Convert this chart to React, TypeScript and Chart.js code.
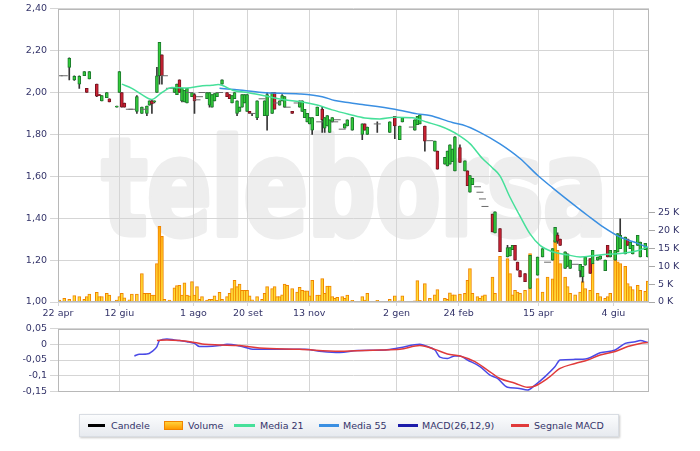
import React, { useEffect, useRef } from "react";
import { Chart, registerables } from "chart.js";

Chart.register(...registerables);

// ---------- data ----------
// trading-session index (position on the time axis)
const days = [
  0, 2, 4, 6, 8, 10, 11, 12, 15, 16,
  17, 19, 20, 23, 24, 25, 26, 28, 29, 31,
  33, 34, 35, 36, 37, 38, 39, 40, 41, 42,
  44, 46, 47, 48, 49, 50, 51, 52, 53, 54,
  55, 56, 57, 59, 60, 61, 62, 63, 64, 65,
  67, 68, 69, 70, 71, 72, 73, 74, 75, 76,
  77, 79, 81, 82, 83, 85, 86, 87, 88, 89,
  90, 91, 93, 95, 96, 97, 98, 99, 100, 101,
  103, 104, 105, 106, 107, 108, 109, 110, 111, 113,
  114, 115, 117, 121, 122, 123, 127, 132, 134, 136,
  137, 139, 141, 142, 143, 144, 146, 148, 150, 151,
  154, 155, 156, 157, 158, 160, 162, 163, 164, 165,
  167, 168, 169, 170, 173, 174, 176, 179, 180, 181,
  182, 183, 184, 186, 188, 191, 193, 195, 197, 198,
  199, 200, 202, 203, 204, 206, 208, 209, 210, 212,
  213, 215, 216, 218, 219, 220, 222, 223, 224, 226,
  227, 228, 229, 231, 232, 234, 235,
];

const opens = [
  2.08, 2.08, 2.12, 2.06, 2.04, 2.08, 2.02, 2.065, 2.04, 1.99,
  1.96, 1.975, 1.97, 1.93, 2.0, 2.0, 1.95, 1.92, 1.92, 1.91,
  1.9, 1.92, 1.9, 1.94, 1.96, 1.955, 2.0, 2.08, 2.18, 2.08,
  2.02, 2.0, 1.99, 2.06, 1.96, 1.955, 1.95, 2.0, 1.98, 1.99,
  1.965, 1.98, 2.0, 1.97, 1.94, 1.93, 1.96, 1.98, 2.0, 2.04,
  2.0, 1.99, 1.95, 1.97, 1.9, 1.91, 1.93, 1.95, 1.91, 1.91,
  1.9, 1.88, 1.97, 1.89, 1.89, 1.9, 2.0, 1.95, 1.94, 1.96,
  1.93, 1.93, 1.91, 1.95, 1.93, 1.91, 1.88, 1.86, 1.85, 1.82,
  1.89, 1.86, 1.92, 1.83, 1.84, 1.81, 1.86, 1.86, 1.87, 1.825,
  1.83, 1.84, 1.82, 1.8, 1.85, 1.8, 1.85, 1.81, 1.886, 1.775,
  1.86, 1.88, 1.835, 1.82, 1.846, 1.85, 1.84, 1.77, 1.72, 1.72,
  1.658, 1.65, 1.658, 1.67, 1.626, 1.737, 1.626, 1.626, 1.524, 1.56,
  1.55, 1.524, 1.492, 1.456, 1.42, 1.33, 1.35, 1.215, 1.22, 1.25,
  1.27, 1.19, 1.15, 1.136, 1.065, 1.128, 1.215, 1.19, 1.2, 1.286,
  1.32, 1.3, 1.16, 1.17, 1.16, 1.18, 1.15, 1.12, 1.176, 1.207,
  1.183, 1.2, 1.205, 1.15, 1.27, 1.215, 1.2, 1.239, 1.255, 1.23,
  1.3, 1.255, 1.23, 1.27, 1.215, 1.25, 1.215,
];

const highs = [
  2.08, 2.08, 2.165, 2.08, 2.08, 2.1, 2.02, 2.1, 2.04, 1.99,
  1.985, 2.0, 1.97, 1.935, 2.1, 2.0, 1.95, 1.92, 1.92, 1.985,
  1.93, 1.92, 1.935, 1.96, 1.965, 1.96, 2.12, 2.24, 2.18, 2.08,
  2.02, 2.02, 2.04, 2.06, 2.02, 2.01, 2.02, 2.0, 2.0, 1.995,
  1.965, 1.98, 2.0, 2.0, 2.0, 1.99, 1.995, 2.0, 2.0, 2.06,
  2.0, 1.99, 1.985, 2.0, 1.96, 1.93, 1.99, 1.99, 1.99, 1.91,
  1.9, 1.96, 1.97, 1.96, 2.0, 2.0, 2.0, 1.95, 1.96, 1.99,
  1.98, 1.93, 1.91, 1.95, 1.96, 1.96, 1.92, 1.9, 1.88, 1.88,
  1.93, 1.86, 1.93, 1.88, 1.89, 1.87, 1.88, 1.86, 1.87, 1.825,
  1.85, 1.87, 1.88, 1.85, 1.85, 1.835, 1.86, 1.86, 1.886, 1.84,
  1.88, 1.88, 1.835, 1.87, 1.886, 1.894, 1.84, 1.77, 1.768, 1.72,
  1.69, 1.72, 1.75, 1.73, 1.79, 1.75, 1.674, 1.626, 1.603, 1.59,
  1.55, 1.524, 1.492, 1.456, 1.42, 1.43, 1.35, 1.27, 1.26, 1.27,
  1.27, 1.19, 1.15, 1.136, 1.223, 1.215, 1.255, 1.19, 1.255, 1.357,
  1.33, 1.3, 1.239, 1.23, 1.2, 1.18, 1.18, 1.17, 1.215, 1.207,
  1.247, 1.215, 1.22, 1.2, 1.27, 1.247, 1.247, 1.326, 1.397, 1.31,
  1.3, 1.286, 1.27, 1.318, 1.286, 1.28, 1.26,
];

const lows = [
  2.08, 2.08, 2.06, 2.058, 2.02, 2.08, 2.0, 2.065, 1.98, 1.985,
  1.96, 1.975, 1.955, 1.93, 2.0, 1.93, 1.93, 1.92, 1.92, 1.9,
  1.9, 1.92, 1.89, 1.94, 1.9, 1.95, 2.0, 2.04, 2.04, 2.08,
  2.02, 2.0, 1.99, 2.0, 1.955, 1.955, 1.95, 2.0, 1.98, 1.9,
  1.965, 1.98, 2.0, 1.97, 1.93, 1.93, 1.96, 1.98, 2.0, 2.04,
  1.98, 1.97, 1.95, 1.97, 1.89, 1.91, 1.93, 1.95, 1.91, 1.9,
  1.89, 1.87, 1.97, 1.89, 1.82, 1.9, 1.92, 1.95, 1.94, 1.96,
  1.93, 1.93, 1.9, 1.95, 1.93, 1.91, 1.88, 1.86, 1.85, 1.8,
  1.89, 1.86, 1.81, 1.81, 1.84, 1.81, 1.86, 1.86, 1.87, 1.825,
  1.83, 1.84, 1.82, 1.775, 1.82, 1.8, 1.81, 1.81, 1.78, 1.775,
  1.86, 1.88, 1.835, 1.82, 1.846, 1.85, 1.72, 1.77, 1.72, 1.634,
  1.658, 1.65, 1.658, 1.67, 1.626, 1.666, 1.626, 1.555, 1.524, 1.56,
  1.55, 1.524, 1.492, 1.456, 1.334, 1.33, 1.24, 1.215, 1.22, 1.25,
  1.2, 1.152, 1.12, 1.097, 1.065, 1.128, 1.215, 1.19, 1.2, 1.286,
  1.28, 1.27, 1.16, 1.17, 1.16, 1.18, 1.12, 1.095, 1.176, 1.136,
  1.183, 1.2, 1.205, 1.15, 1.215, 1.215, 1.2, 1.239, 1.255, 1.23,
  1.27, 1.255, 1.23, 1.27, 1.215, 1.25, 1.215,
];

const closes = [
  2.08, 2.08, 2.163, 2.077, 2.077, 2.1, 2.0, 2.1, 1.982, 1.985,
  1.985, 2.0, 1.955, 1.935, 2.1, 1.93, 1.93, 1.92, 1.92, 1.98,
  1.93, 1.92, 1.935, 1.96, 1.945, 1.96, 2.08, 2.24, 2.08, 2.08,
  2.02, 2.02, 2.04, 2.0, 2.02, 2.01, 2.02, 2.0, 2.0, 1.96,
  1.965, 1.98, 2.0, 2.0, 2.0, 1.99, 1.995, 2.0, 2.0, 2.06,
  1.98, 1.97, 1.985, 2.0, 1.96, 1.93, 1.99, 1.99, 1.99, 1.9,
  1.9, 1.96, 1.97, 1.96, 1.99, 2.0, 1.92, 1.95, 1.96, 1.985,
  1.98, 1.93, 1.9, 1.95, 1.96, 1.96, 1.92, 1.9, 1.88, 1.88,
  1.93, 1.86, 1.87, 1.88, 1.89, 1.87, 1.88, 1.86, 1.87, 1.825,
  1.85, 1.87, 1.88, 1.85, 1.82, 1.835, 1.85, 1.86, 1.84, 1.84,
  1.88, 1.88, 1.835, 1.87, 1.886, 1.894, 1.768, 1.77, 1.768, 1.634,
  1.69, 1.72, 1.75, 1.73, 1.788, 1.666, 1.674, 1.555, 1.603, 1.59,
  1.55, 1.524, 1.492, 1.456, 1.334, 1.43, 1.24, 1.26, 1.26, 1.27,
  1.2, 1.152, 1.12, 1.097, 1.223, 1.215, 1.255, 1.19, 1.255, 1.357,
  1.29, 1.27, 1.239, 1.23, 1.2, 1.18, 1.18, 1.17, 1.215, 1.136,
  1.247, 1.215, 1.22, 1.2, 1.215, 1.247, 1.247, 1.326, 1.318, 1.31,
  1.27, 1.286, 1.27, 1.318, 1.286, 1.28, 1.26,
];

// volume in thousands of shares
const volumesK = [
  0.56, 1.0, 0.74, 1.77, 1.5, 0.74, 1.5, 2.2, 2.7, 1.5,
  1.5, 2.4, 1.95, 0.56, 1.5, 2.4, 1.2, 0.6, 2.2, 2.2,
  8.0, 2.4, 2.4, 2.4, 1.95, 1.95, 10.8, 21.2, 18.4, 0.74,
  0.56, 4.0, 4.6, 4.7, 1.95, 5.4, 1.95, 1.7, 5.7, 1.95,
  4.3, 0.74, 1.5, 0.56, 0.74, 0.74, 1.7, 0.5, 2.7, 0.74,
  1.5, 2.4, 3.8, 6.1, 4.3, 5.0, 3.3, 3.3, 3.3, 1.7,
  0.6, 1.5, 0.74, 2.4, 4.3, 3.8, 4.3, 1.5, 1.5, 2.0,
  5.0, 4.7, 3.8, 2.8, 4.1, 3.3, 3.1, 3.1, 1.7, 6.1,
  1.95, 1.95, 6.6, 2.4, 4.5, 4.5, 1.5, 1.0, 1.3, 1.5,
  1.0, 1.95, 0.5, 1.5, 0.56, 2.4, 0.5, 0.74, 1.7, 0.3,
  1.7, 0.2, 0.2, 0.3, 6.0, 0.5, 5.2, 1.0, 2.0, 3.5,
  1.0, 0.74, 2.6, 2.0, 2.0, 2.2, 2.4, 6.1, 9.4, 2.4,
  1.5, 1.0, 1.7, 2.0, 7.0, 2.4, 12.8, 12.2, 8.0, 2.0,
  3.3, 2.8, 2.4, 3.3, 13.6, 6.6, 2.8, 7.0, 6.5, 17.3,
  14.5, 10.8, 7.0, 4.3, 2.4, 2.0, 2.8, 5.7, 3.8, 3.3,
  10.8, 2.4, 1.5, 1.0, 1.5, 2.4, 14.0, 11.3, 10.8, 10.0,
  5.2, 4.3, 3.5, 4.7, 3.3, 3.0, 5.9,
];

const ma21Days = [
  25, 29, 33, 37, 41, 45, 51, 56, 61, 63.5,
  69.5, 76, 83, 90, 96, 103, 109, 116, 122, 128,
  134, 141, 147, 152, 156, 159, 164, 169, 173, 176,
  180, 184, 188, 192, 197, 203, 208, 214, 219, 224,
  230, 235,
];
const ma21Vals = [
  2.04, 2.02, 1.99, 1.967, 2.0, 2.024, 2.022, 2.03, 2.035, 2.038,
  2.01, 1.998, 1.982, 1.965, 1.957, 1.94, 1.917, 1.895, 1.878, 1.874,
  1.882, 1.879, 1.858, 1.84, 1.82, 1.8, 1.756, 1.685, 1.64, 1.602,
  1.5, 1.41, 1.325, 1.27, 1.24, 1.225, 1.215, 1.222, 1.228, 1.232,
  1.242, 1.262,
];

const ma55Days = [
  64, 70, 81, 96, 105, 110, 116, 121, 134, 143,
  148, 157, 161, 168, 176, 184, 191, 197, 204, 211,
  217, 224, 231, 235,
];
const ma55Vals = [
  2.02, 2.014, 2.0, 1.993, 1.98, 1.962, 1.951, 1.943, 1.92, 1.898,
  1.89, 1.857, 1.846, 1.81, 1.755, 1.685, 1.605, 1.545, 1.478, 1.413,
  1.36, 1.31, 1.28, 1.26,
];

const macdDays = [
  30, 32, 35, 37, 39, 40, 43, 46, 48, 51,
  54, 56, 59, 64, 67, 72, 78, 87, 98, 105,
  112, 119, 130, 136, 144, 147, 150, 152, 155, 158,
  160, 163, 168, 172, 175, 179, 183, 187, 190, 194,
  198, 200, 206, 211, 216, 222, 226, 230, 232, 235,
];
const macdVals = [
  -0.037, -0.032, -0.031, -0.023, -0.007, 0.012, 0.017, 0.014, 0.012, 0.0085,
  0.003, -0.007, -0.007, -0.004, 0, -0.005, -0.016, -0.016, -0.016, -0.023,
  -0.026, -0.02, -0.018, -0.011, 0, -0.007, -0.018, -0.041, -0.045, -0.037,
  -0.037, -0.05, -0.071, -0.098, -0.109, -0.137, -0.14, -0.146, -0.13, -0.103,
  -0.071, -0.05, -0.048, -0.045, -0.027, -0.018, 0.003, 0.0085, 0.012, 0.006,
];

const signalDays = [
  39, 43, 48, 54, 58, 64, 72, 80, 96, 112,
  128, 136, 144, 150, 155, 160, 166, 171, 176, 182,
  187, 190, 195, 200, 206, 211, 216, 222, 227, 232,
  235,
];
const signalVals = [
  0.012, 0.014, 0.012, 0.006, 0, -0.002, -0.004, -0.012, -0.016, -0.022,
  -0.018, -0.016, -0.004, -0.016, -0.031, -0.037, -0.055, -0.082, -0.109, -0.124,
  -0.137, -0.133, -0.109, -0.077, -0.061, -0.05, -0.034, -0.023, -0.007, 0.003,
  0.006,
];

const tickDays = [-0.5, 24, 53.6, 75.3, 99.8, 134.7, 159.5, 191.3, 221.3];
const tickLabels = ["22 apr", "12 giu", "1 ago", "20 set", "13 nov", "2 gen", "24 feb", "15 apr", "4 giu"];
const priceTicks = [1.0, 1.2, 1.4, 1.6, 1.8, 2.0, 2.2, 2.4];
const volumeTicks = [0, 5000, 10000, 15000, 20000, 25000];
const macdTicks = [-0.15, -0.1, -0.05, 0, 0.05];
const legendLabels = ["Candele", "Volume", "Media 21", "Media 55", "MACD(26,12,9)", "Segnale MACD"];

// ---------- styles ----------
const FONT_FAMILY = "'DejaVu Sans', 'Liberation Sans', sans-serif";
const TEXT_COLOR = "#34346a";
const GRID_COLOR = "#d5d5d5";
const BORDER_COLOR = "#b8b8b8";
const GREEN_FILL = "#33cc3a";
const GREEN_EDGE = "#1b7a2c";
const RED_FILL = "#cc2233";
const RED_EDGE = "#7a1420";
const MA21_COLOR = "#46e09a";
const MA55_COLOR = "#3a8fe2";
const MACD_COLOR = "#4a4ae6";
const SIGNAL_COLOR = "#e03a3a";
const X_MIN = -0.5;
const X_MAX = 235.5;

const tickFont = { family: FONT_FAMILY, size: 9.5 };

const fmtPrice = (v: number) => v.toFixed(2).replace(".", ",");
const fmtMacd = (v: number) => String(Math.round(v * 100) / 100).replace(".", ",");

const watermark = {
  id: "watermark",
  beforeDraw(chart: any) {
    const { ctx } = chart;
    ctx.save();
    ctx.fillStyle = "#eeeeee";
    ctx.strokeStyle = "#eeeeee";
    ctx.lineJoin = "round";
    ctx.font = "bold 132px 'DejaVu Sans', sans-serif";
    const text = "teleborsa";
    const w = ctx.measureText(text).width;
    ctx.translate(102, 234);
    ctx.scale(505 / w, 1);
    ctx.lineWidth = 7;
    ctx.strokeText(text, 0, 0);
    ctx.fillText(text, 0, 0);
    ctx.restore();
  },
};

const plotBorder = {
  id: "plotBorder",
  afterDatasetsDraw(chart: any) {
    const { ctx, chartArea: a } = chart;
    ctx.save();
    ctx.strokeStyle = BORDER_COLOR;
    ctx.lineWidth = 1;
    ctx.strokeRect(Math.round(a.left) + 0.5, Math.round(a.top) + 0.5, Math.round(a.right - a.left) - 1, Math.round(a.bottom - a.top) - 1);
    ctx.restore();
  },
};

function PriceChart() {
  const ref = useRef<HTMLCanvasElement>(null);
  useEffect(() => {
    const canvas = ref.current;
    if (!canvas) return;
    const idx = days.map((_, i) => i);
    const bodyIdx = idx.filter((i) => opens[i] !== closes[i]);
    const dojiIdx = idx.filter((i) => opens[i] === closes[i]);
    const wickIdx = idx.filter((i) => highs[i] !== lows[i]);

    const volumeFill = (c: any) => {
      const area = c.chart.chartArea;
      if (!area) return "#ffc000";
      const g = c.chart.ctx.createLinearGradient(0, area.bottom, 0, area.bottom - 90);
      g.addColorStop(0, "#ffe23a");
      g.addColorStop(1, "#ff9c00");
      return g;
    };

    const chart = new Chart(canvas, {
      type: "bar",
      data: {
        datasets: [
          {
            type: "line",
            label: "Media 21",
            data: ma21Days.map((d, i) => ({ x: d, y: ma21Vals[i] })),
            borderColor: MA21_COLOR,
            borderWidth: 1.5,
            pointRadius: 0,
            cubicInterpolationMode: "monotone",
            yAxisID: "y",
            order: 0,
          },
          {
            type: "line",
            label: "Media 55",
            data: ma55Days.map((d, i) => ({ x: d, y: ma55Vals[i] })),
            borderColor: MA55_COLOR,
            borderWidth: 1.5,
            pointRadius: 0,
            cubicInterpolationMode: "monotone",
            yAxisID: "y",
            order: 1,
          },
          {
            type: "line",
            label: "doji",
            data: dojiIdx.map((i) => ({ x: days[i], y: closes[i] })),
            showLine: false,
            pointStyle: "line",
            pointRadius: 3.5,
            pointBorderColor: "#6a6a6a",
            pointBorderWidth: 1,
            yAxisID: "y",
            order: 2,
          },
          {
            type: "bar",
            label: "body",
            data: bodyIdx.map((i) => ({ x: days[i], y: [opens[i], closes[i]] })),
            backgroundColor: bodyIdx.map((i) => (closes[i] > opens[i] ? GREEN_FILL : RED_FILL)),
            borderColor: bodyIdx.map((i) => (closes[i] > opens[i] ? GREEN_EDGE : RED_EDGE)),
            borderWidth: 1,
            borderSkipped: false,
            barThickness: 3,
            grouped: false,
            yAxisID: "y",
            order: 3,
          },
          {
            type: "bar",
            label: "wick",
            data: wickIdx.map((i) => ({ x: days[i], y: [lows[i], highs[i]] })),
            backgroundColor: "#353535",
            barThickness: 1,
            grouped: false,
            yAxisID: "y",
            order: 4,
          },
          {
            type: "bar",
            label: "Volume",
            data: days.map((d, i) => ({ x: d, y: volumesK[i] * 1000 })),
            backgroundColor: volumeFill,
            borderColor: "#f08400",
            borderWidth: 1,
            barThickness: 3,
            grouped: false,
            yAxisID: "y2",
            order: 5,
          },
        ] as any,
      },
      options: {
        animation: false,
        responsive: false,
        devicePixelRatio: 1,
        layout: { padding: { top: 7, left: 0, right: 0, bottom: 0 } },
        plugins: { legend: { display: false }, tooltip: { enabled: false } },
        scales: {
          x: {
            type: "linear",
            min: X_MIN,
            max: X_MAX,
            offset: false,
            afterBuildTicks: (s: any) => {
              s.ticks = tickDays.map((v) => ({ value: v }));
            },
            afterFit: (s: any) => {
              s.height = 18;
            },
            ticks: {
              autoSkip: false,
              maxRotation: 0,
              padding: 2,
              color: TEXT_COLOR,
              font: tickFont,
              callback: (_v: any, i: number) => tickLabels[i],
            },
            grid: { color: GRID_COLOR, offset: false, drawTicks: true, tickLength: 4 },
            border: { display: false },
          },
          y: {
            type: "linear",
            position: "left",
            min: 1.0,
            max: 2.4,
            afterBuildTicks: (s: any) => {
              s.ticks = priceTicks.map((v) => ({ value: v }));
            },
            afterFit: (s: any) => {
              s.width = 58;
            },
            ticks: { padding: 3, color: TEXT_COLOR, font: tickFont, callback: (v: any) => fmtPrice(Number(v)) },
            grid: { color: GRID_COLOR, tickLength: 8 },
            border: { display: false },
          },
          y2: {
            type: "linear",
            position: "right",
            min: 0,
            max: 82300,
            afterBuildTicks: (s: any) => {
              s.ticks = volumeTicks.map((v) => ({ value: v }));
            },
            afterFit: (s: any) => {
              s.width = 51;
            },
            ticks: { padding: 3, color: TEXT_COLOR, font: tickFont, callback: (v: any) => `${Number(v) / 1000} K` },
            grid: { drawOnChartArea: false, color: "#a8a8a8", tickLength: 6 },
            border: { display: false },
          },
        },
      } as any,
      plugins: [watermark, plotBorder],
    });
    return () => chart.destroy();
  }, []);
  return <canvas ref={ref} width={700} height={320} style={{ position: "absolute", left: 0, top: 0 }} />;
}

function MacdChart() {
  const ref = useRef<HTMLCanvasElement>(null);
  useEffect(() => {
    const canvas = ref.current;
    if (!canvas) return;
    const chart = new Chart(canvas, {
      type: "line",
      data: {
        datasets: [
          {
            label: "Segnale MACD",
            data: signalDays.map((d, i) => ({ x: d, y: signalVals[i] })),
            borderColor: SIGNAL_COLOR,
            borderWidth: 1.5,
            pointRadius: 0,
            cubicInterpolationMode: "monotone",
          },
          {
            label: "MACD(26,12,9)",
            data: macdDays.map((d, i) => ({ x: d, y: macdVals[i] })),
            borderColor: MACD_COLOR,
            borderWidth: 1.5,
            pointRadius: 0,
            cubicInterpolationMode: "monotone",
          },
        ],
      },
      options: {
        animation: false,
        responsive: false,
        devicePixelRatio: 1,
        layout: { padding: { top: 8, bottom: 8, left: 0, right: 51 } },
        plugins: { legend: { display: false }, tooltip: { enabled: false } },
        scales: {
          x: {
            type: "linear",
            min: X_MIN,
            max: X_MAX,
            afterBuildTicks: (s: any) => {
              s.ticks = tickDays.map((v) => ({ value: v }));
            },
            afterFit: (s: any) => {
              s.height = 0;
            },
            ticks: { display: false },
            grid: { color: GRID_COLOR, drawTicks: false },
            border: { display: false },
          },
          y: {
            type: "linear",
            min: -0.15,
            max: 0.05,
            afterBuildTicks: (s: any) => {
              s.ticks = macdTicks.map((v) => ({ value: v }));
            },
            afterFit: (s: any) => {
              s.width = 58;
            },
            ticks: { padding: 3, color: TEXT_COLOR, font: tickFont, callback: (v: any) => fmtMacd(Number(v)) },
            grid: { color: GRID_COLOR, tickLength: 8 },
            border: { display: false },
          },
        },
      } as any,
      plugins: [plotBorder],
    });
    return () => chart.destroy();
  }, []);
  return <canvas ref={ref} width={700} height={80} style={{ position: "absolute", left: 0, top: 320 }} />;
}

function Legend() {
  const items = [
    { kind: "line", color: "#000000", lineLeft: 8, lineW: 17, textLeft: 31 },
    { kind: "box", color: "#ffb000", lineLeft: 84, lineW: 19, textLeft: 108 },
    { kind: "line", color: MA21_COLOR, lineLeft: 154, lineW: 21, textLeft: 180 },
    { kind: "line", color: MA55_COLOR, lineLeft: 239, lineW: 20, textLeft: 263 },
    { kind: "line", color: "#1c1caa", lineLeft: 318, lineW: 20, textLeft: 342 },
    { kind: "line", color: SIGNAL_COLOR, lineLeft: 431, lineW: 18, textLeft: 454 },
  ];
  return (
    <div
      style={{
        position: "absolute",
        left: 79,
        top: 414,
        width: 540,
        height: 23,
        boxSizing: "border-box",
        background: "linear-gradient(#fbfcfd, #e7eaef)",
        border: "1px solid #d9dde3",
        boxShadow: "1px 1px 2px rgba(0,0,0,0.22)",
        fontFamily: FONT_FAMILY,
        fontSize: "9.5px",
        color: TEXT_COLOR,
      }}
    >
      {items.map((it, i) => (
        <React.Fragment key={i}>
          {it.kind === "line" ? (
            <div
              style={{
                position: "absolute",
                left: it.lineLeft,
                top: 9,
                width: it.lineW,
                height: 3,
                background: it.color,
              }}
            />
          ) : (
            <div
              style={{
                position: "absolute",
                left: it.lineLeft,
                top: 6,
                width: it.lineW,
                height: 9,
                boxSizing: "border-box",
                background: "linear-gradient(#ffd23a, #ff9a00)",
                border: "1px solid #f08400",
              }}
            />
          )}
          <div style={{ position: "absolute", left: it.textLeft, top: 0, height: 21, lineHeight: "21px", whiteSpace: "nowrap" }}>
            {legendLabels[i]}
          </div>
        </React.Fragment>
      ))}
    </div>
  );
}

export default function App() {
  return (
    <div style={{ position: "absolute", left: 0, top: 0, width: 700, height: 451, background: "#ffffff", overflow: "hidden" }}>
      <PriceChart />
      <MacdChart />
      <Legend />
    </div>
  );
}
